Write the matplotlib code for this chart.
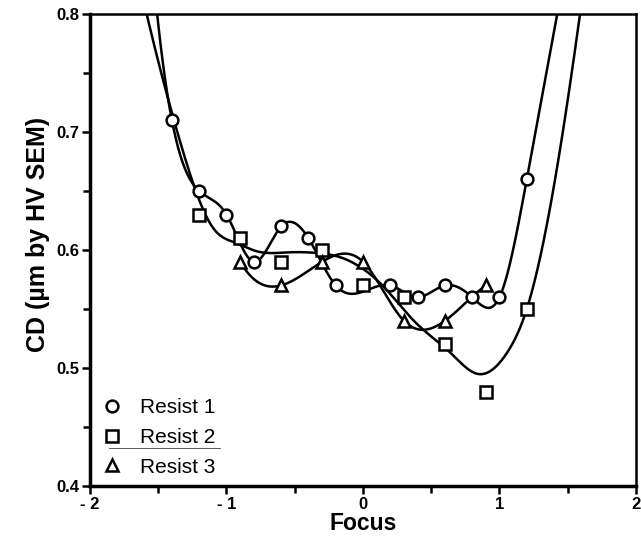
import matplotlib
matplotlib.use("Agg")
import matplotlib.pyplot as plt
import numpy as np
from matplotlib.ticker import MultipleLocator, FixedLocator, FixedFormatter

plt.rcParams['font.family'] = ['Liberation Sans', 'DejaVu Sans']

# data
r1_x = [-1.4, -1.2, -1.0, -0.8, -0.6, -0.4, -0.2, 0.2, 0.4, 0.6, 0.8, 1.0, 1.2]
r1_y = [0.71, 0.65, 0.63, 0.59, 0.62, 0.61, 0.57, 0.57, 0.56, 0.57, 0.56, 0.56, 0.66]
r2_x = [-1.2, -0.9, -0.6, -0.3, 0.0, 0.3, 0.6, 0.9, 1.2]
r2_y = [0.63, 0.61, 0.59, 0.60, 0.57, 0.56, 0.52, 0.48, 0.55]
r3_x = [-0.9, -0.6, -0.3, 0.0, 0.3, 0.6, 0.9]
r3_y = [0.59, 0.57, 0.59, 0.59, 0.54, 0.54, 0.57]

# fitted curve of resist 2 (it does not go through the squares)
fit2_x = [-1.585, -1.46, -1.33, -1.24, -1.17, -1.10, -0.93, -0.78, -0.55, -0.3,
          -0.17, 0.0, 0.125, 0.39, 0.64, 0.84, 1.05, 1.2, 1.38, 1.59]
fit2_y = [0.800, 0.742, 0.688, 0.655, 0.634, 0.619, 0.606, 0.599, 0.598, 0.597,
          0.594, 0.584, 0.572, 0.538, 0.513, 0.495, 0.512, 0.55, 0.642, 0.80]

xticks = [-2, -1, 0, 1, 2]
xtick_labels = ['- 2', '- 1', '0', '1', '2']
yticks = [0.4, 0.5, 0.6, 0.7, 0.8]


def spline(x, y, xs, left='notaknot', right='notaknot'):
    # cubic spline, end pieces carried on past the data
    x = np.asarray(x, float)
    y = np.asarray(y, float)
    n = len(x) - 1
    h = np.diff(x)
    A = np.zeros((n + 1, n + 1))
    b = np.zeros(n + 1)
    for i in range(1, n):
        A[i, i - 1] = h[i - 1]
        A[i, i] = 2 * (h[i - 1] + h[i])
        A[i, i + 1] = h[i]
        b[i] = 6 * ((y[i + 1] - y[i]) / h[i] - (y[i] - y[i - 1]) / h[i - 1])
    if left == 'notaknot':
        A[0, 0], A[0, 1], A[0, 2] = h[1], -(h[0] + h[1]), h[0]
    else:
        A[0, 0] = 1.0
    if right == 'notaknot':
        A[n, n - 2], A[n, n - 1], A[n, n] = h[n - 1], -(h[n - 2] + h[n - 1]), h[n - 2]
    else:
        A[n, n] = 1.0
    M = np.linalg.solve(A, b)
    i = np.clip(np.searchsorted(x, xs) - 1, 0, n - 1)
    hi = h[i]
    a = x[i + 1] - xs
    c = xs - x[i]
    ys = (M[i] * a**3 / (6 * hi) + M[i + 1] * c**3 / (6 * hi)
          + (y[i] / hi - M[i] * hi / 6) * a + (y[i + 1] / hi - M[i + 1] * hi / 6) * c)
    if right == 'natural':
        # straight on past the last point
        slope = (y[n] - y[n - 1]) / h[n - 1] + h[n - 1] * (2 * M[n] + M[n - 1]) / 6
        out = xs > x[n]
        ys[out] = y[n] + slope * (xs[out] - x[n])
    return ys


fig = plt.figure(figsize=(6.41, 5.39), dpi=100)
ax = fig.add_axes([0.1404, 0.0983, 0.8518, 0.8757])

xs1 = np.linspace(-1.7, 1.6, 800)
ax.plot(xs1, spline(r1_x, r1_y, xs1, right='natural'), color='black', lw=1.8, zorder=2)

xs2 = np.linspace(-1.7, 1.7, 800)
ax.plot(xs2, spline(fit2_x, fit2_y, xs2), color='black', lw=1.8, zorder=2)

xs3 = np.linspace(r3_x[0], r3_x[-1], 400)
ax.plot(xs3, spline(r3_x, r3_y, xs3), color='black', lw=1.8, zorder=2)

mk = dict(linestyle='none', markerfacecolor='white', markeredgecolor='black',
          markeredgewidth=1.8, zorder=3)
ax.plot(r1_x, r1_y, marker='o', markersize=8.5, label='Resist 1', **mk)
ax.plot(r2_x, r2_y, marker='s', markersize=8, label='Resist 2', **mk)
ax.plot(r3_x, r3_y, marker='^', markersize=8, label='Resist 3', **mk)

ax.set_xlim(-2, 2)
ax.set_ylim(0.4, 0.8)
ax.xaxis.set_major_locator(FixedLocator(xticks))
ax.xaxis.set_major_formatter(FixedFormatter(xtick_labels))
ax.xaxis.set_minor_locator(MultipleLocator(0.5))
ax.yaxis.set_major_locator(FixedLocator(yticks))
ax.yaxis.set_minor_locator(MultipleLocator(0.05))
ax.tick_params(which='both', direction='out', width=1.8, top=False, right=False)
ax.tick_params(which='major', length=6, labelsize=12, pad=2)
ax.tick_params(which='minor', length=5)
for lab in ax.get_xticklabels() + ax.get_yticklabels():
    lab.set_fontweight('bold')
for side in ['left', 'bottom']:
    ax.spines[side].set_linewidth(2.5)
for side in ['top', 'right']:
    ax.spines[side].set_linewidth(1.8)

ax.set_xlabel('Focus', fontsize=16.5, fontweight='bold', labelpad=0)
ax.set_ylabel('CD (µm by HV SEM)', fontsize=18, fontweight='bold')
ax.yaxis.set_label_coords(-0.073, 0.532)

leg = ax.legend(loc='lower left', frameon=False, fontsize=15, handletextpad=0.75,
                handlelength=1.2, labelspacing=0.52, borderaxespad=0.05)
ax.plot([0.035, 0.238], [0.0805, 0.0805], transform=ax.transAxes, color='0.35', lw=0.7)

fig.savefig('out.png', dpi=100)
